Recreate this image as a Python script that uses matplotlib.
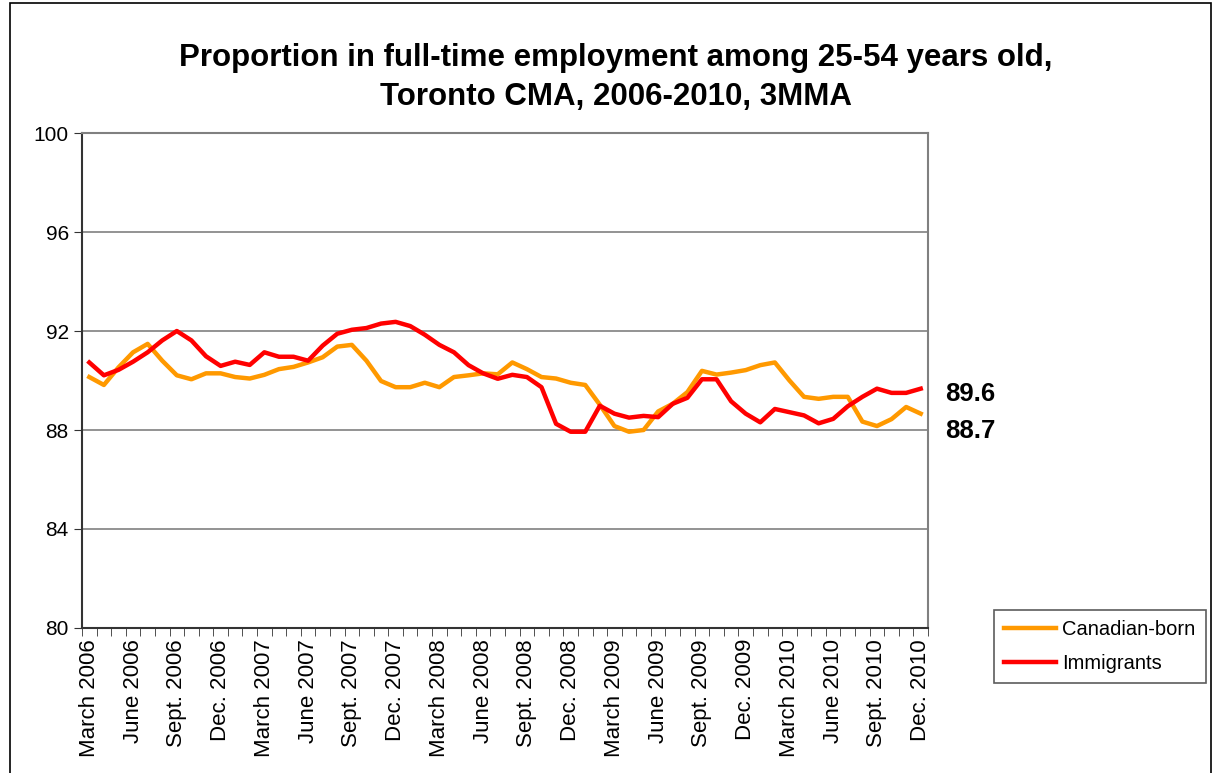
import matplotlib.pyplot as plt
from matplotlib.patches import Rectangle

plt.rcParams['font.family'] = ['Liberation Sans', 'DejaVu Sans']

# months March 2006 .. Dec. 2010 (58 monthly points, 3-month moving average)
tick_labels = []
for year in range(2006, 2011):
    for m in ["March", "June", "Sept.", "Dec."]:
        tick_labels.append(f"{m} {year}")

canadian_born = [
    90.14, 89.82, 90.53, 91.14, 91.48, 90.80, 90.21, 90.05, 90.29, 90.29,
    90.14, 90.08, 90.23, 90.46, 90.55, 90.73, 90.94, 91.37, 91.44, 90.80,
    89.98, 89.73, 89.73, 89.91, 89.73, 90.14, 90.21, 90.29, 90.25, 90.73,
    90.46, 90.14, 90.08, 89.91, 89.82, 89.02, 88.16, 87.93, 88.00, 88.75,
    89.06, 89.53, 90.39, 90.24, 90.32, 90.42, 90.62, 90.73, 90.00, 89.34,
    89.26, 89.34, 89.34, 88.34, 88.16, 88.44, 88.93, 88.66,
]
immigrants = [
    90.73, 90.21, 90.43, 90.76, 91.14, 91.62, 92.00, 91.62, 90.98, 90.59,
    90.76, 90.63, 91.14, 90.96, 90.96, 90.80, 91.41, 91.89, 92.05, 92.12,
    92.30, 92.37, 92.20, 91.85, 91.44, 91.14, 90.62, 90.29, 90.07, 90.23,
    90.14, 89.73, 88.25, 87.93, 87.93, 88.98, 88.66, 88.50, 88.57, 88.52,
    89.06, 89.30, 90.05, 90.05, 89.16, 88.66, 88.31, 88.85, 88.72, 88.59,
    88.27, 88.45, 88.96, 89.34, 89.67, 89.50, 89.50, 89.67,
]
end_labels = ["89.6", "88.7"]

fig = plt.figure(figsize=(12.15, 7.73), dpi=100)
ax = fig.add_axes([0.0675, 0.1876, 0.6963, 0.6403])

x = list(range(len(canadian_born)))
ax.plot(x, canadian_born, color="#FF9900", lw=3.2, label="Canadian-born")
ax.plot(x, immigrants, color="#FF0000", lw=3.2, label="Immigrants")

ax.set_xlim(-0.5, len(x) - 0.5)
ax.set_ylim(80, 100)
ax.set_yticks(range(80, 101, 4))
ax.yaxis.grid(True, color="#808080", lw=1.2)
ax.set_axisbelow(True)

# category labels every 3 months, tick marks at category boundaries
ax.set_xticks(x[::3])
ax.set_xticklabels(tick_labels, rotation=90, fontsize=16)
ax.set_xticks([i - 0.5 for i in range(len(x) + 1)], minor=True)
ax.tick_params(axis="x", which="major", length=0, pad=8)
ax.tick_params(axis="x", which="minor", length=6, direction="out", color="#333333")
ax.tick_params(axis="y", length=6, direction="out", labelsize=15, color="#333333")

for side in ["top", "right"]:
    ax.spines[side].set_color("#808080")
    ax.spines[side].set_linewidth(1.5)
for side in ["left", "bottom"]:
    ax.spines[side].set_color("#333333")
    ax.spines[side].set_linewidth(1.5)

fig.text(0.507, 0.9, "Proportion in full-time employment among 25-54 years old,\nToronto CMA, 2006-2010, 3MMA",
         ha="center", va="center", fontsize=22.5, fontweight="bold", linespacing=1.4)

ax.text(1.02, 89.45, end_labels[0], transform=ax.get_yaxis_transform(),
        fontsize=18.5, fontweight="bold", va="center", ha="left")
ax.text(1.02, 87.96, end_labels[1], transform=ax.get_yaxis_transform(),
        fontsize=18.5, fontweight="bold", va="center", ha="left")

leg = fig.legend(loc="upper left", bbox_to_anchor=(0.818, 0.211),
                 fontsize=14.5, frameon=True, fancybox=False, borderaxespad=0,
                 handlelength=2.6, borderpad=0.5, labelspacing=0.75, handletextpad=0.3)
leg.get_frame().set_edgecolor("#333333")
leg.get_frame().set_linewidth(1.2)

fig.patches.append(Rectangle((0.008, -0.01), 0.989, 1.006, transform=fig.transFigure,
                             fill=False, edgecolor="black", lw=1.2))

fig.savefig("out.png", dpi=100)
